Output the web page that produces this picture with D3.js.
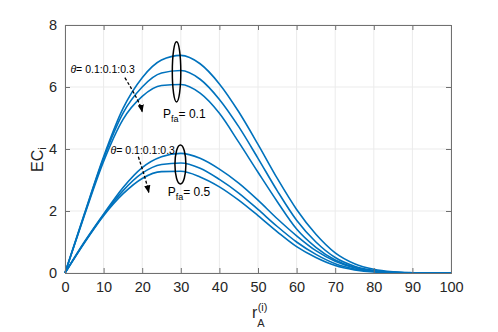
<!DOCTYPE html>
<html>
<head>
<meta charset="utf-8">
<script src="https://cdn.jsdelivr.net/npm/d3@7"></script>
<style>
  html, body { margin: 0; padding: 0; background: #fff; }
  svg { display: block; font-family: "Liberation Sans Narrow", "Liberation Sans", sans-serif; }
</style>
</head>
<body>
<svg id="chart" width="498" height="332"></svg>
<script>
// r_A^(i) sample points
const rValues = [0, 5, 10, 15, 20, 25, 30, 35, 40, 45, 50, 55, 60, 65, 70, 75, 80, 85, 90, 95, 100];

// P_fa = 0.1, theta = 0.1, 0.2, 0.3
const pfa01Theta01 = [0, 1.9, 3.75, 5.3, 6.3, 6.87, 7.02, 6.75, 6.1, 5.2, 4.15, 3.05, 2.05, 1.25, 0.65, 0.3, 0.12, 0.04, 0.01, 0, 0];
const pfa01Theta02 = [0, 1.88, 3.7, 5.15, 6.0, 6.45, 6.53, 6.25, 5.6, 4.72, 3.7, 2.65, 1.7, 1.0, 0.5, 0.22, 0.08, 0.02, 0.005, 0, 0];
const pfa01Theta03 = [0, 1.85, 3.6, 4.95, 5.7, 6.05, 6.08, 5.8, 5.15, 4.22, 3.25, 2.3, 1.42, 0.83, 0.42, 0.18, 0.07, 0.02, 0, 0, 0];

// P_fa = 0.5, theta = 0.1, 0.2, 0.3
const pfa05Theta01 = [0, 1.0, 1.9, 2.75, 3.4, 3.75, 3.86, 3.7, 3.35, 2.9, 2.35, 1.75, 1.2, 0.72, 0.38, 0.17, 0.06, 0.02, 0, 0, 0];
const pfa05Theta02 = [0, 0.98, 1.88, 2.65, 3.22, 3.5, 3.55, 3.38, 3.02, 2.58, 2.05, 1.5, 1.0, 0.6, 0.3, 0.13, 0.05, 0.01, 0, 0, 0];
const pfa05Theta03 = [0, 0.97, 1.85, 2.55, 3.05, 3.27, 3.28, 3.1, 2.78, 2.35, 1.85, 1.33, 0.85, 0.5, 0.24, 0.1, 0.03, 0.01, 0, 0, 0];

const xTicks = [0, 10, 20, 30, 40, 50, 60, 70, 80, 90, 100];
const yTicks = [0, 2, 4, 6, 8];

const seriesList = [pfa01Theta01, pfa01Theta02, pfa01Theta03, pfa05Theta01, pfa05Theta02, pfa05Theta03];

const svg = d3.select('#chart');
const margin = { left: 65, right: 47, top: 25, bottom: 59 };
const width = 498, height = 332;

const x = d3.scaleLinear().domain([0, 100]).range([margin.left, width - margin.right]);
const y = d3.scaleLinear().domain([0, 8]).range([height - margin.bottom, margin.top]);

const axisColor = '#707070';
const textColor = '#262626';

// grid
const grid = svg.append('g');
grid.selectAll('line.gx').data(xTicks).join('line')
  .attr('class', 'gx')
  .attr('x1', d => x(d)).attr('x2', d => x(d))
  .attr('y1', y(0)).attr('y2', y(8))
  .attr('stroke', '#ebebeb').attr('stroke-width', 1);
grid.selectAll('line.gy').data(yTicks).join('line')
  .attr('class', 'gy')
  .attr('y1', d => y(d)).attr('y2', d => y(d))
  .attr('x1', x(0)).attr('x2', x(100))
  .attr('stroke', '#ebebeb').attr('stroke-width', 1);

// curves
const line = d3.line()
  .x((d, i) => x(rValues[i]))
  .y(d => y(d))
  .curve(d3.curveMonotoneX);

svg.append('g').selectAll('path').data(seriesList).join('path')
  .attr('d', d => line(d))
  .attr('fill', 'none')
  .attr('stroke', '#0072BD')
  .attr('stroke-width', 1.6);

// axes (box, ticks inward on all sides)
const axBottom = svg.append('g').attr('transform', `translate(0,${y(0)})`)
  .call(d3.axisBottom(x).tickValues(xTicks).tickSize(-5).tickPadding(9));
const axLeft = svg.append('g').attr('transform', `translate(${x(0)},0)`)
  .call(d3.axisLeft(y).tickValues(yTicks).tickSize(-5).tickPadding(8));
const axTop = svg.append('g').attr('transform', `translate(0,${y(8)})`)
  .call(d3.axisTop(x).tickValues(xTicks).tickSize(-5).tickFormat(''));
const axRight = svg.append('g').attr('transform', `translate(${x(100)},0)`)
  .call(d3.axisRight(y).tickValues(yTicks).tickSize(-5).tickFormat(''));

[axBottom, axLeft, axTop, axRight].forEach(g => {
  g.select('.domain').attr('stroke', axisColor).attr('stroke-width', 1);
  g.selectAll('.tick line').attr('stroke', axisColor);
  g.selectAll('.tick text').attr('fill', textColor).attr('font-size', 14.5)
    .attr('font-family', '"Liberation Sans Narrow", "Liberation Sans", sans-serif');
});

// axis labels
const yLab = svg.append('text')
  .attr('transform', `translate(43,${(y(0) + y(8)) / 2 + 23}) rotate(-90)`)
  .attr('fill', textColor).attr('font-size', 16);
yLab.append('tspan').text('EC');
yLab.append('tspan').attr('font-size', 11).attr('dy', 3).text('i');

const xLab = svg.append('text')
  .attr('x', x(50) - 6).attr('y', 318)
  .attr('fill', textColor).attr('font-size', 16);
xLab.append('tspan').text('r');
xLab.append('tspan').attr('font-size', 11).attr('dy', 9).text('A');
xLab.append('tspan').attr('font-size', 11).attr('dy', -16).attr('dx', -7).text('(i)');

// annotations
const ann = svg.append('g');

// ellipses around curve groups
const ellipses = [
  { r: 28.9, v: 6.49, dr: 1.1, dv: 0.97 },
  { r: 29.9, v: 3.5, dr: 1.42, dv: 0.63 }
];
ann.selectAll('ellipse').data(ellipses).join('ellipse')
  .attr('cx', d => x(d.r)).attr('cy', d => y(d.v))
  .attr('rx', d => x(d.dr) - x(0)).attr('ry', d => y(0) - y(d.dv))
  .attr('fill', 'none').attr('stroke', '#000').attr('stroke-width', 1.5);

// theta labels
function thetaLabel(r, v) {
  const t = ann.append('text').attr('x', x(r)).attr('y', y(v))
    .attr('font-size', 10.5).attr('fill', '#000');
  t.append('tspan').attr('font-style', 'italic').text('\u03B8');
  t.append('tspan').text('= 0.1:0.1:0.3');
}
thetaLabel(1.4, 6.45);
thetaLabel(11.8, 3.85);

// P_fa labels
function pfaLabel(r, v, val) {
  const t = ann.append('text').attr('x', x(r)).attr('y', y(v))
    .attr('font-size', 12).attr('fill', '#000');
  t.append('tspan').text('P');
  t.append('tspan').attr('font-size', 9).attr('dy', 4).text('fa');
  t.append('tspan').attr('dy', -4).text('= ' + val);
}
pfaLabel(25.4, 5.0, '0.1');
pfaLabel(26.6, 2.48, '0.5');

// dashed arrows
svg.append('defs').append('marker')
  .attr('id', 'ah').attr('viewBox', '0 0 10 10').attr('refX', 9).attr('refY', 5)
  .attr('markerWidth', 6).attr('markerHeight', 6).attr('orient', 'auto')
  .append('path').attr('d', 'M0,1 L10,5 L0,9 z').attr('fill', '#000');

const arrows = [
  { r0: 15.5, v0: 6.3, rc: 19.5, vc: 5.5, r1: 20, v1: 5.2 },
  { r0: 19, v0: 3.75, rc: 21, vc: 3.0, r1: 21.7, v1: 2.6 }
];
ann.selectAll('path.arrow').data(arrows).join('path')
  .attr('class', 'arrow')
  .attr('d', d => `M${x(d.r0)},${y(d.v0)} Q${x(d.rc)},${y(d.vc)} ${x(d.r1)},${y(d.v1)}`)
  .attr('fill', 'none').attr('stroke', '#000').attr('stroke-width', 1.3)
  .attr('stroke-dasharray', '3,2')
  .attr('marker-end', 'url(#ah)');
</script>
</body>
</html>
